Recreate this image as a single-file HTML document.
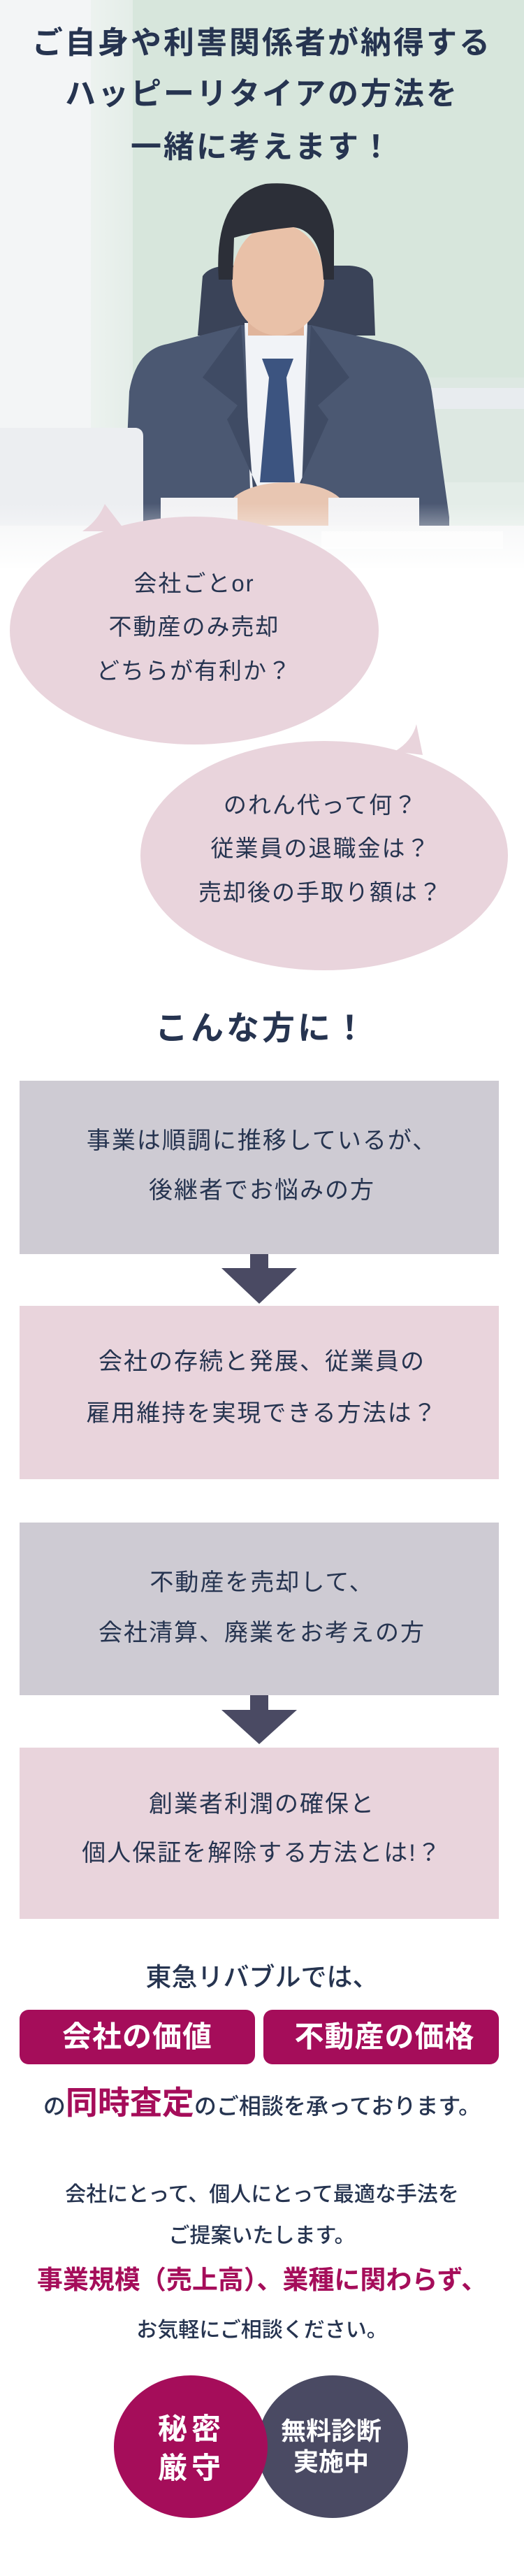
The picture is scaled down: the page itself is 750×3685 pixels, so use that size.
<!DOCTYPE html>
<html><head><meta charset="utf-8">
<style>
*{margin:0;padding:0;box-sizing:border-box}
body{width:750px;height:3685px;position:relative;background:#fff;overflow:hidden;font-family:"Liberation Sans","Noto Sans CJK JP",sans-serif;color:#263450}
.a{position:absolute;left:0;width:750px;text-align:center;white-space:nowrap}
.box{position:absolute;left:28px;width:686px}
.g{background:#cecbd3}.p{background:#e9d4dc}
.t34{font-size:34px;letter-spacing:2px;line-height:40px}
.w{color:#fff;font-weight:bold}
</style></head><body>
<svg style="position:absolute;left:0;top:0" width="750" height="1440" viewBox="0 0 750 1440">
<defs>
<linearGradient id="fade" x1="0" y1="0" x2="0" y2="1">
<stop offset="0" stop-color="#fff" stop-opacity="0"/><stop offset="1" stop-color="#fff" stop-opacity="1"/></linearGradient>
<linearGradient id="lft" x1="0" y1="0" x2="1" y2="0">
<stop offset="0" stop-color="#fff"/><stop offset="1" stop-color="#fff" stop-opacity="0"/></linearGradient>
</defs>
<rect x="0" y="0" width="750" height="820" fill="#e4ede8"/>
<rect x="190" y="0" width="560" height="540" fill="#d7e6dc"/>
<rect x="190" y="540" width="560" height="150" fill="#dde8e2"/>
<rect x="0" y="0" width="190" height="820" fill="url(#lft)"/>
<rect x="0" y="0" width="130" height="820" fill="#f3f5f6"/>
<rect x="610" y="555" width="140" height="30" fill="#e8ecef"/>
<!-- chair -->
<path d="M283 480 L290 395 Q300 380 330 380 L500 380 Q530 382 534 400 L537 480 Z" fill="#3a4358"/>
<!-- suit -->
<path d="M177 750 L185 560 Q195 500 240 492 L345 465 L445 465 L560 492 Q610 505 618 560 L643 740 L643 770 L177 770 Z" fill="#4b5872"/>
<!-- shirt -->
<path d="M350 462 L440 462 L432 700 L358 700 Z" fill="#f1f3f7"/>
<!-- lapels -->
<path d="M345 465 L290 540 L340 580 L325 600 L370 700 L362 700 Z" fill="#3f4b64"/>
<path d="M445 465 L500 540 L455 580 L470 600 L425 700 L432 700 Z" fill="#3f4b64"/>
<!-- tie -->
<path d="M375 513 L420 513 L410 540 L422 690 L372 690 L385 540 Z" fill="#3c5480"/>
<!-- neck/face -->
<rect x="355" y="430" width="80" height="50" fill="#e0b49b"/>
<ellipse cx="398" cy="400" rx="66" ry="80" fill="#e9c1a8"/>
<path d="M313 400 Q305 280 380 263 Q470 255 478 330 L478 400 L463 400 Q460 330 420 325 Q370 330 335 340 L333 400 Z" fill="#2c2f38"/>
<!-- hands -->
<ellipse cx="410" cy="730" rx="85" ry="40" fill="#e8c6b2"/>
<rect x="230" y="712" width="110" height="40" fill="#f2f2f4"/>
<rect x="470" y="712" width="130" height="40" fill="#f2f2f4"/>
<!-- laptop -->
<path d="M0 612 L195 612 Q205 614 205 624 L205 752 L0 752 Z" fill="#eceef1"/>
<!-- desk -->
<rect x="0" y="752" width="750" height="60" fill="#f4f5f6"/>
<rect x="460" y="760" width="260" height="25" fill="#fbfbfb"/>
<rect x="0" y="720" width="750" height="100" fill="url(#fade)"/>
<rect x="0" y="812" width="750" height="628" fill="#fff"/>
<!-- bubbles -->
<path d="M150 721 Q140 745 118 760 L180 760 Z" fill="#e9d4dc"/>
<ellipse cx="278" cy="902" rx="264" ry="163" fill="#e9d4dc"/>
<path d="M596 1036 Q590 1060 565 1075 L605 1080 Z" fill="#e9d4dc"/>
<ellipse cx="464" cy="1224" rx="263" ry="164" fill="#e9d4dc"/>
</svg>

<div class="a" style="top:32px;font-size:44px;font-weight:bold;letter-spacing:3px;line-height:60px">ご自身や利害関係者が納得する</div>
<div class="a" style="top:105px;font-size:44px;font-weight:bold;letter-spacing:3px;line-height:60px">ハッピーリタイアの方法を</div>
<div class="a" style="top:181px;font-size:44px;font-weight:bold;letter-spacing:3px;line-height:60px">一緒に考えます！</div>

<div class="a t34" style="left:-97px;top:815px;font-size:33px">会社ごとor</div>
<div class="a t34" style="left:-97px;top:877px;font-size:33px">不動産のみ売却</div>
<div class="a t34" style="left:-97px;top:940px;font-size:33px">どちらが有利か？</div>

<div class="a t34" style="left:84px;top:1132px;font-size:33px">のれん代って何？</div>
<div class="a t34" style="left:84px;top:1194px;font-size:33px">従業員の退職金は？</div>
<div class="a t34" style="left:84px;top:1257px;font-size:33px">売却後の手取り額は？</div>

<div class="a" style="top:1441px;font-size:47px;font-weight:bold;letter-spacing:4px;line-height:60px">こんな方に！</div>

<div class="box g" style="top:1546px;height:248px"></div>
<div class="a t34" style="top:1612px">事業は順調に推移しているが、</div>
<div class="a t34" style="top:1683px">後継者でお悩みの方</div>
<svg style="position:absolute;left:317px;top:1794px" width="108" height="72"><rect x="41" y="0" width="26" height="22" fill="#4a4a63"/><path d="M0 20 L108 20 L54 71 Z" fill="#4a4a63"/></svg>
<div class="box p" style="top:1868px;height:248px"></div>
<div class="a t34" style="top:1928px">会社の存続と発展、従業員の</div>
<div class="a t34" style="top:2002px">雇用維持を実現できる方法は？</div>

<div class="box g" style="top:2178px;height:247px"></div>
<div class="a t34" style="top:2244px">不動産を売却して、</div>
<div class="a t34" style="top:2316px">会社清算、廃業をお考えの方</div>
<svg style="position:absolute;left:317px;top:2425px" width="108" height="72"><rect x="41" y="0" width="26" height="23" fill="#4a4a63"/><path d="M0 21 L108 21 L54 70 Z" fill="#4a4a63"/></svg>
<div class="box p" style="top:2500px;height:245px"></div>
<div class="a t34" style="top:2561px">創業者利潤の確保と</div>
<div class="a t34" style="top:2631px">個人保証を解除する方法とは!？</div>

<div class="a" style="top:2806px;font-size:37px;line-height:46px;font-weight:500">東急リバブルでは、</div>
<div style="position:absolute;left:28px;top:2875px;width:337px;height:78px;border-radius:13px;background:#a50d5a"></div>
<div style="position:absolute;left:377px;top:2875px;width:337px;height:78px;border-radius:13px;background:#a50d5a"></div>
<div class="w" style="position:absolute;left:28px;top:2887px;width:337px;text-align:center;font-size:42px;line-height:54px;letter-spacing:1px">会社の価値</div>
<div class="w" style="position:absolute;left:382px;top:2887px;width:337px;text-align:center;font-size:42px;line-height:54px;letter-spacing:1px">不動産の価格</div>
<div class="a" style="top:2982px;font-size:32px;line-height:52px;font-weight:500">の<span style="color:#a50d5a;font-size:46px;font-weight:bold">同時査定</span>のご相談を承っております。</div>

<div class="a" style="top:3121px;font-size:30px;line-height:38px;font-weight:500">会社にとって、個人にとって最適な手法を</div>
<div class="a" style="top:3180px;font-size:30px;line-height:38px;font-weight:500">ご提案いたします。</div>
<div class="a" style="top:3238px;font-size:37px;line-height:48px;font-weight:bold;color:#a50d5a">事業規模（売上高）、業種に関わらず、</div>
<div class="a" style="top:3315px;font-size:30px;line-height:38px;font-weight:500">お気軽にご相談ください。</div>

<svg style="position:absolute;left:0;top:3390px" width="750" height="230">
<ellipse cx="476" cy="110" rx="108" ry="102" fill="#4a4a63"/>
<ellipse cx="273" cy="110" rx="110" ry="102" fill="#a50d5a"/>
</svg>
<div class="w" style="position:absolute;left:174px;top:3447px;width:200px;text-align:center;font-size:42px;line-height:56px;letter-spacing:6px">秘密<br>厳守</div>
<div class="w" style="position:absolute;left:374px;top:3456px;width:200px;text-align:center;font-size:36px;line-height:44px">無料診断<br>実施中</div>
</body></html>
